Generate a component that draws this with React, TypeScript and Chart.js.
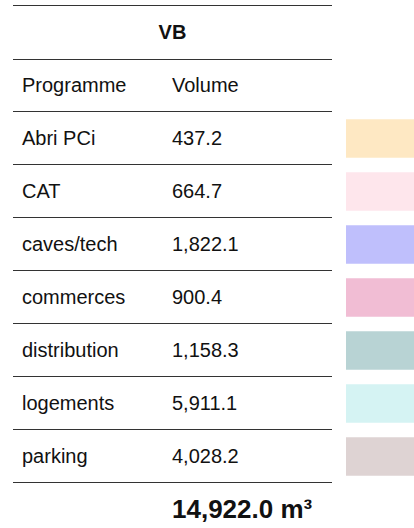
import React, { useEffect, useRef } from "react";
import { Chart, registerables } from "chart.js";

Chart.register(...registerables);

const title = "VB";
const headers = ["Programme", "Volume"];
const programmes = ["Abri PCi", "CAT", "caves/tech", "commerces", "distribution", "logements", "parking"];
const volumes = [437.2, 664.7, 1822.1, 900.4, 1158.3, 5911.1, 4028.2];
const swatchColors = ["#FEE8C3", "#FEE6EC", "#BFBFFC", "#F1BDD4", "#B8D3D4", "#D5F3F3", "#DED3D3"];
const swatchSpan = [1, 1, 1, 1, 1, 1, 1];
const unit = "m³";

const FONT = '"Liberation Sans", Arial, Helvetica, sans-serif';
const fmt = (v: number) => v.toLocaleString("en-US", { minimumFractionDigits: 1, maximumFractionDigits: 1 });

const TABLE_LEFT = 13;
const TABLE_W = 319;
const ROW_H = 53;
const BODY_TOP = 111;

function Line({ y }: { y: number }) {
  return (
    <div
      style={{
        position: "absolute",
        left: TABLE_LEFT,
        top: y,
        width: TABLE_W,
        height: 1,
        background: "#333",
      }}
    />
  );
}

export default function App() {
  const canvasRef = useRef<HTMLCanvasElement | null>(null);

  useEffect(() => {
    if (!canvasRef.current) return;
    const chart = new Chart(canvasRef.current, {
      type: "bar",
      data: {
        labels: programmes,
        datasets: [
          {
            data: swatchSpan,
            backgroundColor: swatchColors,
            borderWidth: 0,
            barThickness: 38,
          },
        ],
      },
      options: {
        indexAxis: "y",
        responsive: false,
        animation: false,
        layout: { padding: 0 },
        plugins: { legend: { display: false }, tooltip: { enabled: false } },
        scales: {
          x: { display: false, min: 0, max: 1 },
          y: { display: false, offset: true },
        },
      },
    });
    return () => chart.destroy();
  }, []);

  const total = volumes.reduce((a, b) => a + b, 0);
  const textStyle: React.CSSProperties = {
    position: "absolute",
    fontFamily: FONT,
    fontSize: 20,
    color: "#111",
    whiteSpace: "nowrap",
  };

  return (
    <div style={{ position: "absolute", left: 0, top: 0, width: 414, height: 528, background: "#fff", overflow: "hidden" }}>
      <Line y={5} />
      <div
        style={{
          ...textStyle,
          left: TABLE_LEFT,
          width: TABLE_W,
          top: 6,
          height: 53,
          lineHeight: "53px",
          textAlign: "center",
          fontWeight: "bold",
        }}
      >
        {title}
      </div>
      <Line y={59} />
      <div style={{ ...textStyle, left: 22, top: 60, height: 51, lineHeight: "51px" }}>{headers[0]}</div>
      <div style={{ ...textStyle, left: 172, top: 60, height: 51, lineHeight: "51px" }}>{headers[1]}</div>
      <Line y={BODY_TOP} />
      {programmes.map((p, i) => (
        <React.Fragment key={p}>
          <div style={{ ...textStyle, left: 22, top: BODY_TOP + 1 + i * ROW_H, height: 52, lineHeight: "52px" }}>{p}</div>
          <div style={{ ...textStyle, left: 172, top: BODY_TOP + 1 + i * ROW_H, height: 52, lineHeight: "52px" }}>
            {fmt(volumes[i])}
          </div>
          <Line y={BODY_TOP + (i + 1) * ROW_H} />
        </React.Fragment>
      ))}
      <div
        style={{
          ...textStyle,
          left: 172,
          top: BODY_TOP + 7 * ROW_H + 1,
          height: 53,
          lineHeight: "53px",
          fontSize: 26,
          fontWeight: "bold",
        }}
      >
        {fmt(total)} {unit}
      </div>
      <canvas
        ref={canvasRef}
        width={68}
        height={7 * ROW_H}
        style={{ position: "absolute", left: 346, top: BODY_TOP + 1, width: 68, height: 7 * ROW_H }}
      />
    </div>
  );
}
